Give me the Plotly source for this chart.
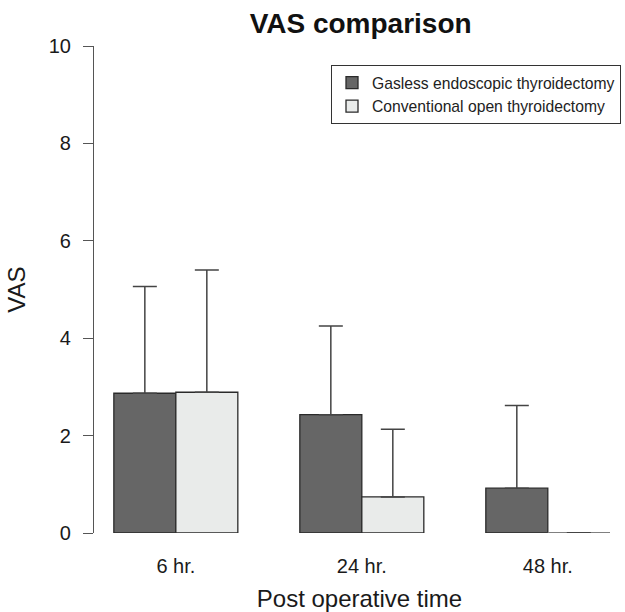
import plotly.graph_objects as go

times = ["6 hr.", "24 hr.", "48 hr."]
group_pos = [2, 5, 8]
gasless_mean = [2.87, 2.43, 0.92]
gasless_upper = [5.06, 4.25, 2.62]
open_mean = [2.89, 0.74, 0.0]
open_upper = [5.40, 2.13, 0.0]
yticks = [0, 2, 4, 6, 8, 10]

font_family = "Liberation Sans, Arial, sans-serif"
BAR_W = 1.0  # bar width in x units

def bar_trace(name, means, uppers, color, offset):
    return go.Bar(
        x=group_pos, y=means, name=name,
        width=BAR_W, offset=offset,
        marker=dict(color=color, line=dict(color="#2a2a2a", width=1.3)),
        error_y=dict(type="data", symmetric=False,
                     array=[u - m for u, m in zip(uppers, means)],
                     arrayminus=[0] * len(means),
                     color="#444444", thickness=1.5, width=12),
    )

fig = go.Figure()
fig.add_trace(bar_trace("Gasless endoscopic thyroidectomy", gasless_mean, gasless_upper, "#666666", -BAR_W))
fig.add_trace(bar_trace("Conventional open thyroidectomy", open_mean, open_upper, "#E9EBEA", 0))

# zero-height bars are drawn by R as a flat outline; reproduce from the data
for pos, m in zip(group_pos, open_mean):
    if m == 0:
        fig.add_trace(go.Scatter(x=[pos, pos + BAR_W], y=[m, m], mode="lines",
                                 line=dict(color="#808080", width=1.8),
                                 showlegend=False, hoverinfo="skip", cliponaxis=False))
fig.add_trace(go.Scatter(x=[p + BAR_W / 2 for p, m in zip(group_pos, open_mean) if m == 0],
                         y=[m for m in open_mean if m == 0], mode="markers",
                         marker=dict(size=0.1, color="rgba(0,0,0,0)"),
                         error_y=dict(type="data", array=[0], color="#444444", thickness=1.8, width=12),
                         showlegend=False, hoverinfo="skip", cliponaxis=False))

fig.update_layout(
    width=625, height=612,
    margin=dict(l=94, r=0, t=46, b=79),
    paper_bgcolor="white", plot_bgcolor="white",
    barmode="overlay",
    font=dict(family=font_family, color="#1a1a1a"),
    title=dict(text="<b>VAS comparison</b>", x=0.577, xanchor="center",
               y=1 - 23 / 612, yanchor="middle", font=dict(size=28, color="#111111")),
    showlegend=True,
    legend=dict(x=(331 - 94) / 531, xanchor="left", y=1 - (65 - 46) / 487, yanchor="top",
                bgcolor="white", bordercolor="#333333", borderwidth=1,
                font=dict(size=15.7, color="#222222"), tracegroupgap=0),
    xaxis=dict(range=[0.68, 9.245], tickmode="array", tickvals=group_pos, ticktext=times,
               showline=False, showgrid=False, zeroline=False, automargin=False,
               ticks="", ticklabelstandoff=19,
               tickfont=dict(size=20, color="#1a1a1a"),
               title=dict(text="Post operative time", font=dict(size=24, color="#1a1a1a"), standoff=14)),
    yaxis=dict(range=[0, 10], tickmode="array", tickvals=yticks,
               showline=True, linecolor="#555555", linewidth=1.2,
               showgrid=False, zeroline=False, automargin=False,
               ticks="outside", ticklen=10, tickcolor="#555555", tickwidth=1.2,
               ticklabelstandoff=8,
               tickfont=dict(size=20, color="#1a1a1a"),
               title=dict(text="VAS", font=dict(size=24, color="#1a1a1a"), standoff=16)),
)

fig.write_html("out.html", config={"displayModeBar": False},
               post_script="document.body.style.margin='0';document.body.style.overflow='hidden';")
